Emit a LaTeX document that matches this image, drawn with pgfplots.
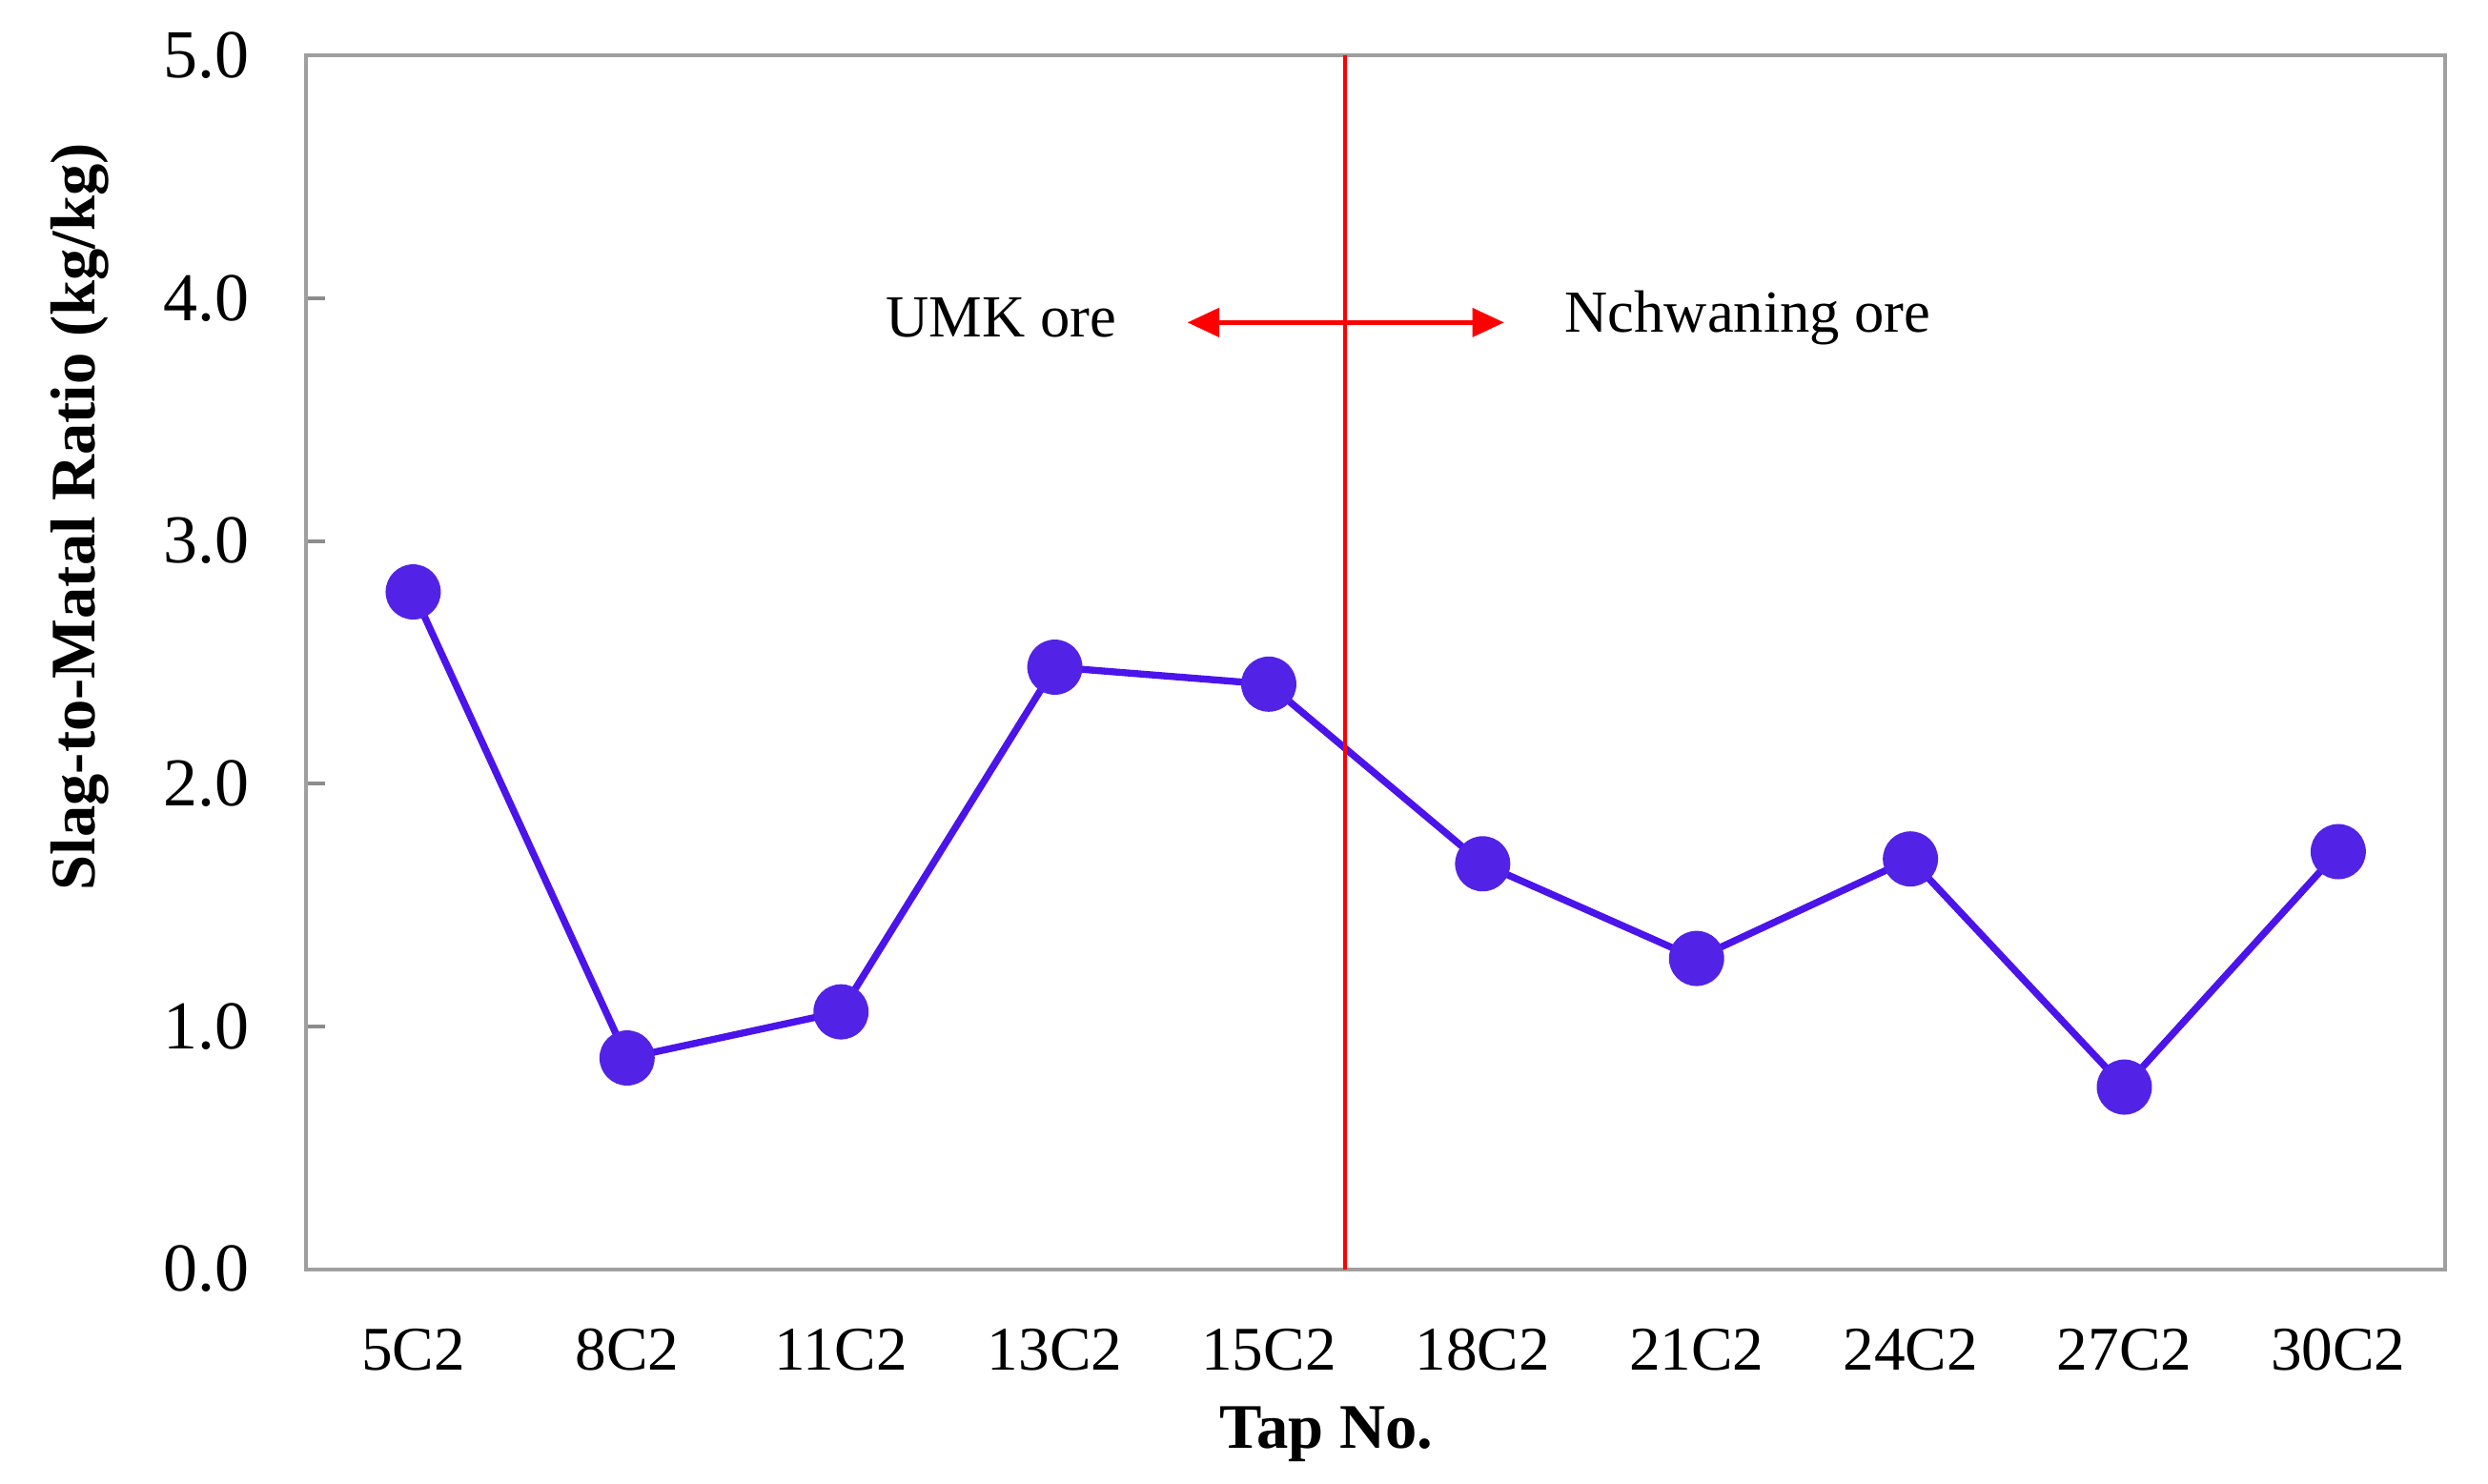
\documentclass[border=0pt]{standalone}
\usepackage{fontspec}
\setmainfont{Liberation Serif}
\usepackage{pgfplots}
\pgfplotsset{compat=1.18}
\usetikzlibrary{arrows.meta}
\definecolor{mk}{RGB}{82,35,230}
\definecolor{ln}{RGB}{75,20,235}
\begin{document}
\fontsize{9.8}{12}\selectfont
\begin{tikzpicture}
\begin{axis}[
  name=ax,
  scale only axis,
  width=337pt, height=191.25pt,
  xmin=-0.5, xmax=9.5, ymin=0, ymax=5,
  xtick={0,...,9},
  xticklabels={5C2,8C2,11C2,13C2,15C2,18C2,21C2,24C2,27C2,30C2},
  ytick={0,1,2,3,4,5},
  /pgf/number format/fixed,
  /pgf/number format/fixed zerofill,
  /pgf/number format/precision=1,
  /pgf/number format/assume math mode=true,
  xtick style={draw=none},
  y tick style={draw=gray!90, line width=0.6pt},
  major tick length=3pt,
  tick align=inside,
  ytick pos=left,
  xtick pos=bottom,
  axis line style={draw=gray!75, line width=0.6pt},
  xticklabel style={yshift=-6pt, font=\fontsize{9.8}{12}\selectfont},
  yticklabel style={xshift=-5.5pt, font=\fontsize{10.8}{12}\selectfont},
  xlabel={\textbf{Tap No.}},
  ylabel={\textbf{Slag-to-Matal Ratio (kg/kg)}},
  xlabel style={at={(axis description cs:0.477,0)}, anchor=center, yshift=-26pt, font=\fontsize{10}{12}\selectfont},
  ylabel style={at={(axis description cs:-0.106,0.62)}, anchor=center, font=\fontsize{10}{12}\selectfont},
  clip=false,
]
\addplot[color=ln, line width=1.1pt, mark=*, mark size=4.2pt,
  mark options={fill=mk, draw=mk, line width=0.3pt}]
  coordinates {
  (0,2.79) (1,0.87) (2,1.06) (3,2.48) (4,2.41)
  (5,1.67) (6,1.28) (7,1.69) (8,0.75) (9,1.72)
  };
\draw[red, line width=0.55pt] (axis cs:4.356,0) -- (axis cs:4.356,5);
\draw[red, line width=0.65pt, {Triangle[length=5pt,width=4.5pt]}-{Triangle[length=5pt,width=4.5pt]}] (axis cs:3.62,3.90) -- (axis cs:5.10,3.90);
\node[font=\fontsize{9.4}{12}\selectfont] at (axis cs:2.75,3.92) {UMK ore};
\node[font=\fontsize{9.4}{12}\selectfont] at (axis cs:6.24,3.92) {Nchwaning ore};
\end{axis}
\path (ax.south west) ++(-48.25pt,-33.75pt) rectangle (ax.north east);
\path (ax.north east) ++(6.75pt,8.75pt);
\end{tikzpicture}
\end{document}
